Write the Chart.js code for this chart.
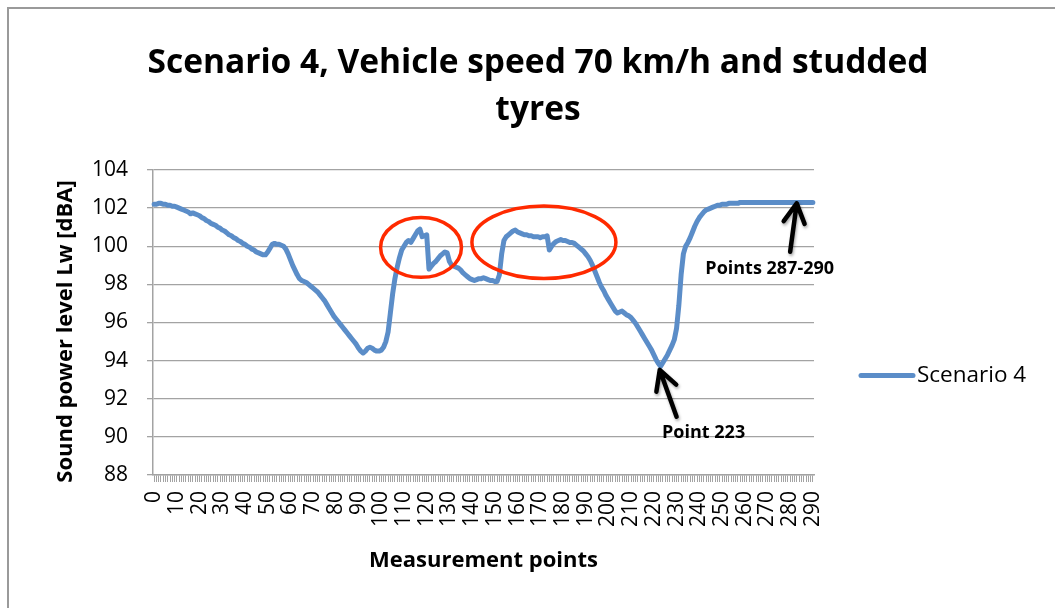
<!DOCTYPE html>
<html>
<head>
<meta charset="utf-8">
<script src="https://cdn.jsdelivr.net/npm/chart.js@4.4.1/dist/chart.umd.min.js"></script>
<style>
  html, body { margin: 0; padding: 0; background: #fff; }
  #wrap { position: relative; width: 1055px; height: 608px; }
</style>
</head>
<body>
<div id="wrap"><canvas id="c" width="1055" height="608"></canvas></div>
<script>
// ---- DATA ----
const chartTitle = ['Scenario 4, Vehicle speed 70 km/h and studded', 'tyres'];
const seriesName = 'Scenario 4';
const yAxisTitle = 'Sound power level Lw [dBA]';
const xAxisTitle = 'Measurement points';
const categories = Array.from({ length: 291 }, (_, i) => String(i));
const labelEvery = 10;
const yMin = 88, yMax = 104, yStep = 2;

const scenario4 = [
  102.2,102.2,102.25,102.25,102.2,102.2,102.15,102.15,102.1,102.1,102.05,
  102.0,101.95,101.9,101.85,101.8,101.7,101.75,101.7,101.65,101.6,
  101.5,101.45,101.35,101.3,101.2,101.15,101.1,101.0,100.95,100.85,
  100.8,100.7,100.6,100.55,100.45,100.4,100.3,100.25,100.15,100.1,
  100.0,99.95,99.85,99.8,99.7,99.65,99.6,99.55,99.55,99.7,
  99.9,100.1,100.15,100.1,100.1,100.05,100.0,99.85,99.6,99.3,
  99.0,98.75,98.5,98.3,98.2,98.15,98.1,98.0,97.9,97.8,
  97.7,97.6,97.45,97.3,97.15,96.95,96.75,96.55,96.35,96.2,
  96.05,95.9,95.75,95.6,95.45,95.3,95.15,95.0,94.85,94.65,
  94.5,94.4,94.5,94.65,94.7,94.65,94.55,94.5,94.5,94.55,
  94.7,95.0,95.5,96.5,97.5,98.3,98.9,99.4,99.8,100.0,
  100.2,100.3,100.2,100.4,100.6,100.8,100.9,100.5,100.55,100.6,
  98.8,98.95,99.1,99.2,99.35,99.5,99.6,99.7,99.65,99.2,
  99.0,98.95,98.9,98.85,98.75,98.6,98.5,98.4,98.3,98.25,
  98.2,98.25,98.3,98.3,98.35,98.3,98.25,98.2,98.2,98.15,
  98.15,98.5,99.6,100.3,100.5,100.6,100.7,100.8,100.85,100.75,
  100.7,100.65,100.6,100.6,100.55,100.55,100.5,100.5,100.5,100.45,
  100.5,100.5,100.55,99.8,100.0,100.15,100.25,100.3,100.35,100.3,
  100.3,100.25,100.2,100.2,100.15,100.05,99.95,99.85,99.75,99.6,
  99.45,99.25,99.0,98.7,98.4,98.1,97.85,97.65,97.4,97.2,
  97.0,96.8,96.6,96.5,96.55,96.6,96.5,96.4,96.35,96.25,
  96.1,95.95,95.75,95.55,95.35,95.15,94.95,94.75,94.55,94.3,
  94.05,93.85,93.7,93.9,94.1,94.3,94.55,94.8,95.1,95.7,
  96.9,98.5,99.6,100.0,100.2,100.45,100.75,101.05,101.3,101.5,
  101.65,101.8,101.9,101.95,102.0,102.05,102.1,102.15,102.15,102.2,
  102.2,102.2,102.25,102.25,102.25,102.25,102.25,102.3,102.3,102.3,
  102.3,102.3,102.3,102.3,102.3,102.3,102.3,102.3,102.3,102.3,
  102.3,102.3,102.3,102.3,102.3,102.3,102.3,102.3,102.3,102.3,
  102.3,102.3,102.3,102.3,102.3,102.3,102.3,102.3,102.3,102.3
];

// annotations in data coordinates (category index, dBA)
const ellipses = [
  { x: 117.5, y: 99.94, rx: 17.8, ry: 1.57 },
  { x: 171.6, y: 100.21, rx: 31.7, ry: 1.9 }
];
const arrows = [
  { from: [230.0, 91.06], to: [222.6, 93.51] },
  { from: [280.0, 99.71], to: [282.9, 102.25] }
];
const notes = [
  { text: 'Point 223', x: 241.9, y: 90.2 },
  { text: 'Points 287-290', x: 271.0, y: 98.8 }
];

// ---- STYLE ----
const LINE_COLOR = '#5b8dc8';
const GRID_COLOR = '#a3a3a3';
const FONT = "'Open Sans', 'DejaVu Sans', sans-serif";

const framePlugin = {
  id: 'frame',
  beforeDraw(chart) {
    const ctx = chart.ctx;
    ctx.save();
    ctx.fillStyle = '#fff';
    ctx.fillRect(0, 0, chart.width, chart.height);
    ctx.strokeStyle = '#9a9a9a';
    ctx.lineWidth = 2;
    ctx.beginPath();
    ctx.moveTo(8, chart.height + 2);
    ctx.lineTo(8, 8);
    ctx.lineTo(chart.width + 2, 8);
    ctx.stroke();
    ctx.restore();
  }
};

const textPlugin = {
  id: 'texts',
  afterDraw(chart) {
    const ctx = chart.ctx;
    const ca = chart.chartArea;
    const ds = chart.data.datasets[0];
    ctx.save();
    ctx.fillStyle = '#000';
    ctx.textBaseline = 'middle';
    // chart title
    ctx.textAlign = 'center';
    ctx.font = "bold 33.5px " + FONT;
    chartTitle.forEach((t, i) => ctx.fillText(t, 538, 63 + i * 47));
    // y axis title
    ctx.save();
    ctx.translate(66, (ca.top + ca.bottom) / 2 + 9);
    ctx.rotate(-Math.PI / 2);
    ctx.font = "bold 22px " + FONT;
    ctx.fillText(yAxisTitle, 0, 0);
    ctx.restore();
    // legend
    const y = (ca.top + ca.bottom) / 2 + 53;
    const x0 = ca.right + 47;
    ctx.strokeStyle = ds.borderColor;
    ctx.lineWidth = 5;
    ctx.lineCap = 'round';
    ctx.beginPath();
    ctx.moveTo(x0, y);
    ctx.lineTo(x0 + 52, y);
    ctx.stroke();
    ctx.font = "22.5px " + FONT;
    ctx.textAlign = 'left';
    ctx.fillText(ds.label, x0 + 56, y);
    ctx.restore();
  }
};

const annotationPlugin = {
  id: 'annotations',
  afterDatasetsDraw(chart) {
    const ctx = chart.ctx;
    const xs = chart.scales.x, ys = chart.scales.y;
    const px = v => xs.getPixelForValue(v);
    const py = v => ys.getPixelForValue(v);
    const dx = px(1) - px(0);
    const dy = py(yMin) - py(yMin + 1);
    ctx.save();
    ctx.strokeStyle = '#ff2a00';
    ctx.lineWidth = 3.5;
    ellipses.forEach(e => {
      ctx.beginPath();
      ctx.ellipse(px(e.x), py(e.y), e.rx * dx, e.ry * dy, 0, 0, Math.PI * 2);
      ctx.stroke();
    });
    ctx.strokeStyle = '#000';
    ctx.lineWidth = 4.5;
    ctx.lineCap = 'round';
    ctx.lineJoin = 'round';
    ctx.shadowColor = 'rgba(0,0,0,0.35)';
    ctx.shadowBlur = 3;
    ctx.shadowOffsetX = 1;
    ctx.shadowOffsetY = 2;
    arrows.forEach(a => {
      const x1 = px(a.from[0]), y1 = py(a.from[1]);
      const x2 = px(a.to[0]), y2 = py(a.to[1]);
      const ang = Math.atan2(y1 - y2, x1 - x2);
      const L = 22, w = 0.5;
      ctx.beginPath();
      ctx.moveTo(x1, y1);
      ctx.lineTo(x2, y2);
      ctx.moveTo(x2 + L * Math.cos(ang - w), y2 + L * Math.sin(ang - w));
      ctx.lineTo(x2, y2);
      ctx.lineTo(x2 + L * Math.cos(ang + w), y2 + L * Math.sin(ang + w));
      ctx.stroke();
    });
    ctx.shadowColor = 'transparent';
    ctx.fillStyle = '#000';
    ctx.font = "bold 18px " + FONT;
    ctx.textAlign = 'center';
    ctx.textBaseline = 'middle';
    notes.forEach(n => ctx.fillText(n.text, px(n.x), py(n.y)));
    ctx.restore();
  }
};

new Chart(document.getElementById('c'), {
  type: 'line',
  data: {
    labels: categories,
    datasets: [{
      label: seriesName,
      data: scenario4,
      borderColor: LINE_COLOR,
      backgroundColor: LINE_COLOR,
      borderWidth: 5,
      pointRadius: 0,
      pointHoverRadius: 0,
      tension: 0,
      borderJoinStyle: 'round',
      borderCapStyle: 'round',
      fill: false
    }]
  },
  options: {
    responsive: false,
    animation: false,
    events: [],
    layout: { padding: { left: 0, right: 241, top: 170, bottom: 0 } },
    plugins: {
      legend: { display: false },
      tooltip: { enabled: false },
      title: { display: false }
    },
    scales: {
      x: {
        type: 'category',
        offset: true,
        afterFit: s => { s.height = 133; },
        grid: {
          drawOnChartArea: false,
          drawTicks: true,
          tickLength: 7,
          color: GRID_COLOR,
          lineWidth: 1,
          offset: false
        },
        border: { display: true, color: GRID_COLOR, width: 1.5 },
        ticks: {
          autoSkip: false,
          minRotation: 90,
          maxRotation: 90,
          padding: 9,
          color: '#000',
          font: { family: FONT, size: 21 },
          callback: (v, i) => (i % labelEvery === 0 ? categories[i] : '')
        },
        title: {
          display: true,
          text: xAxisTitle,
          color: '#000',
          font: { family: FONT, size: 22, weight: 'bold' },
          padding: { top: 0, bottom: 34 }
        }
      },
      y: {
        min: yMin,
        max: yMax,
        afterFit: s => { s.width = 153; },
        grid: {
          color: GRID_COLOR,
          lineWidth: 1.3,
          drawTicks: true,
          tickLength: 6
        },
        border: { display: true, color: GRID_COLOR, width: 1.5 },
        ticks: {
          stepSize: yStep,
          padding: 19,
          color: '#000',
          font: { family: FONT, size: 21 }
        },
        title: { display: false }
      }
    }
  },
  plugins: [framePlugin, textPlugin, annotationPlugin]
});
</script>
</body>
</html>
